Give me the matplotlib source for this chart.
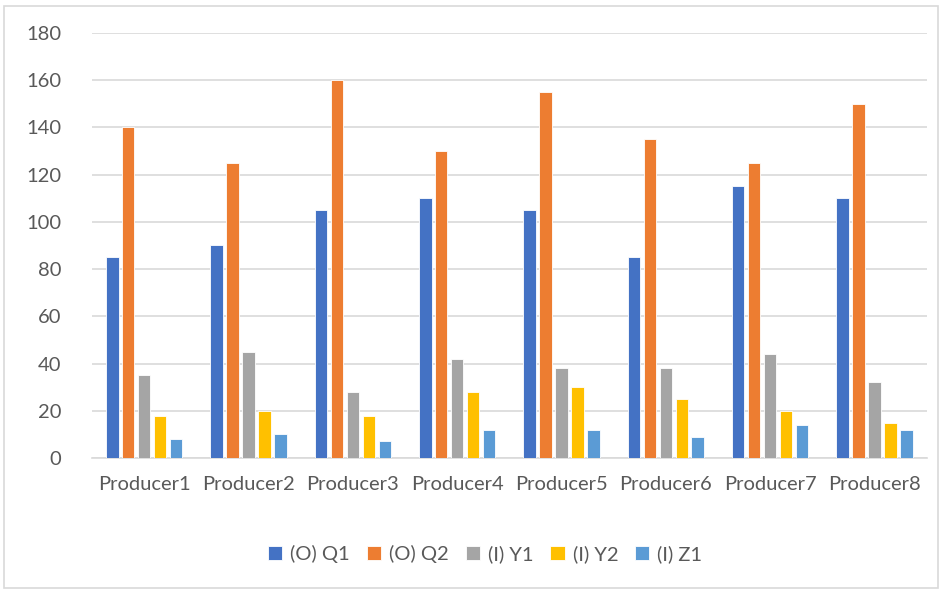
import matplotlib
matplotlib.use("Agg")
import matplotlib.pyplot as plt
import numpy as np
from matplotlib.patches import Rectangle

plt.rcParams['font.family'] = ['Lato', 'DejaVu Sans']

producers = ["Producer1", "Producer2", "Producer3", "Producer4",
             "Producer5", "Producer6", "Producer7", "Producer8"]
series_names = ["(O) Q1", "(O) Q2", "(I) Y1", "(I) Y2", "(I) Z1"]
q1 = [85, 90, 105, 110, 105, 85, 115, 110]
q2 = [140, 125, 160, 130, 155, 135, 125, 150]
y1 = [35, 45, 28, 42, 38, 38, 44, 32]
y2 = [18, 20, 18, 28, 30, 25, 20, 15]
z1 = [8, 10, 7, 12, 12, 9, 14, 12]
colors = ["#4472C4", "#ED7D31", "#A5A5A5", "#FFC000", "#5B9BD5"]
yticks = [0, 20, 40, 60, 80, 100, 120, 140, 160, 180]

text_color = "#595959"
grid_color = "#D9D9D9"

fig = plt.figure(figsize=(9.42, 5.89), dpi=100)
ax = fig.add_axes([0.0977, 0.2224, 0.886, 0.7216])

x = np.arange(len(producers))
pitch = 0.153
width = 0.12
all_series = [q1, q2, y1, y2, z1]
for i, (vals, name, col) in enumerate(zip(all_series, series_names, colors)):
    offset = (i - 2) * pitch
    ax.bar(x + offset, vals, width, color=col, label=name,
           edgecolor="white", linewidth=0.6, zorder=3)

ax.set_xlim(-0.5, len(producers) - 0.5)
ax.set_ylim(0, 180)
ax.set_yticks(yticks)
ax.set_xticks(x)
ax.set_xticklabels(producers)
ax.yaxis.grid(True, color=grid_color, linewidth=1.2, zorder=0)
ax.set_axisbelow(True)
for s in ["top", "right", "left"]:
    ax.spines[s].set_visible(False)
ax.spines["bottom"].set_color(grid_color)
ax.spines["bottom"].set_linewidth(1.2)
ax.tick_params(axis="both", length=0, colors=text_color, labelsize=14.5)
ax.tick_params(axis="y", pad=22)
ax.tick_params(axis="x", pad=13)

leg = fig.legend(loc="center", bbox_to_anchor=(0.515, 0.06), ncol=5,
                 frameon=False, fontsize=14.5, handlelength=0.7,
                 handleheight=0.7, handletextpad=0.4, columnspacing=0.85)
for t in leg.get_texts():
    t.set_color(text_color)

# chart frame
fig.patches.append(Rectangle((4 / 942, 1 / 589), 934 / 942, 582 / 589,
                             transform=fig.transFigure, fill=False,
                             edgecolor="#D9D9D9", linewidth=1.2))

fig.savefig("out.png", dpi=100)
